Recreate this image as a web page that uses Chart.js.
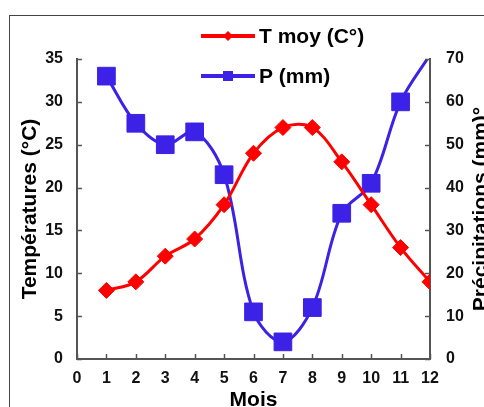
<!DOCTYPE html>
<html>
<head>
<meta charset="utf-8">
<script src="https://cdn.jsdelivr.net/npm/chart.js@4.4.1/dist/chart.umd.min.js"></script>
<style>
  html, body { margin: 0; padding: 0; background: #fff; overflow: hidden; }
  #wrap { width: 484px; height: 407px; }
</style>
</head>
<body>
<div id="wrap"><canvas id="climChart" width="484" height="407"></canvas></div>
<script>
/* données climatiques */
const mois = [1, 2, 3, 4, 5, 6, 7, 8, 9, 10, 11, 12];
const tMoy = [8, 9, 12, 14, 18, 24, 27, 27, 23, 18, 13, 9];
const precip = [66, 55, 50, 53, 43, 11, 4, 12, 34, 41, 60, 71];
const tempMax = 35;
const precipMax = 70;

const FONT = '"Liberation Sans", Arial, sans-serif';
const RED = "#ff0000";
const BLUE = "#3c22e6";
const AXIS = "#555555";

/* bordure, graduations internes, titres et légende */
const decor = {
  id: "decor",
  beforeDraw(chart) {
    const ctx = chart.ctx;
    ctx.save();
    ctx.strokeStyle = "#444";
    ctx.lineWidth = 1;
    ctx.strokeRect(9.5, 15.5, 1000, 1000);
    ctx.restore();
  },
  afterDraw(chart) {
    const ctx = chart.ctx;
    const a = chart.chartArea;
    const s = chart.scales;
    ctx.save();
    ctx.strokeStyle = AXIS;
    ctx.lineWidth = 1.5;
    s.y.ticks.forEach(t => {
      const p = Math.round(s.y.getPixelForValue(t.value)) + 0.5;
      ctx.beginPath(); ctx.moveTo(a.left, p); ctx.lineTo(a.left + 5, p); ctx.stroke();
    });
    s.y2.ticks.forEach(t => {
      const p = Math.round(s.y2.getPixelForValue(t.value)) + 0.5;
      ctx.beginPath(); ctx.moveTo(a.right, p); ctx.lineTo(a.right - 5, p); ctx.stroke();
    });
    s.x.ticks.forEach(t => {
      const p = Math.round(s.x.getPixelForValue(t.value)) + 0.5;
      ctx.beginPath(); ctx.moveTo(p, a.bottom); ctx.lineTo(p, a.bottom - 5); ctx.stroke();
    });

    // titres des axes
    ctx.fillStyle = "#000";
    ctx.font = "bold 21px " + FONT;
    ctx.textAlign = "center";
    ctx.textBaseline = "middle";
    const midY = (a.top + a.bottom) / 2;
    ctx.save();
    ctx.translate(30, midY);
    ctx.rotate(-Math.PI / 2);
    ctx.fillText("Températures (°C)", 0, 0);
    ctx.restore();
    ctx.save();
    ctx.translate(481, midY);
    ctx.rotate(-Math.PI / 2);
    ctx.fillText("Précipitations (mm)°", 0, 0);
    ctx.restore();
    ctx.fillText("Mois", (a.left + a.right) / 2, 400);

    // légende
    const rows = [
      { ds: chart.data.datasets[0], y: 36, style: "diamond" },
      { ds: chart.data.datasets[1], y: 76, style: "square" }
    ];
    rows.forEach(r => {
      ctx.strokeStyle = r.ds.borderColor;
      ctx.fillStyle = r.ds.borderColor;
      ctx.lineWidth = 4;
      ctx.beginPath(); ctx.moveTo(201, r.y); ctx.lineTo(255, r.y); ctx.stroke();
      ctx.beginPath();
      if (r.style === "diamond") {
        ctx.moveTo(228, r.y - 5); ctx.lineTo(233, r.y); ctx.lineTo(228, r.y + 5); ctx.lineTo(223, r.y);
        ctx.closePath();
      } else {
        ctx.rect(223, r.y - 5, 10, 10);
      }
      ctx.fill();
      ctx.fillStyle = "#000";
      ctx.textAlign = "left";
      ctx.fillText(r.ds.label, 259, r.y + 1);
    });
    ctx.restore();
  }
};

new Chart(document.getElementById("climChart"), {
  type: "line",
  data: {
    datasets: [{
      label: "T moy (C°)",
      data: mois.map((m, i) => ({ x: m, y: tMoy[i] })),
      yAxisID: "y",
      borderColor: RED,
      backgroundColor: RED,
      borderWidth: 3,
      tension: 0.35,
      pointStyle: "rectRot",
      pointRadius: 8,
      pointBorderWidth: 1,
      pointHoverRadius: 8
    }, {
      label: "P (mm)",
      data: mois.map((m, i) => ({ x: m, y: precip[i] })),
      yAxisID: "y2",
      borderColor: BLUE,
      backgroundColor: BLUE,
      borderWidth: 3,
      tension: 0.35,
      clip: 0,
      pointStyle: "rect",
      pointRadius: ctx => (ctx.raw && ctx.raw.y > precipMax ? 0 : 12.5),
      pointBorderWidth: 1,
      pointHoverRadius: 12.5
    }]
  },
  options: {
    responsive: false,
    animation: false,
    devicePixelRatio: 1,
    layout: { padding: { top: 59, left: 0, right: 0, bottom: 0 } },
    plugins: { legend: { display: false }, tooltip: { enabled: false } },
    scales: {
      x: {
        type: "linear",
        min: 0, max: 12,
        afterFit: sc => { sc.height = 48; },
        grid: { display: false, drawTicks: false },
        border: { display: true, color: AXIS, width: 2 },
        ticks: { stepSize: 1, padding: 10, color: "#111", font: { family: FONT, size: 16, weight: "bold" } }
      },
      y: {
        position: "left",
        min: 0, max: tempMax,
        afterFit: sc => { sc.width = 77; },
        grid: { display: false, drawTicks: false },
        border: { display: true, color: AXIS, width: 2 },
        ticks: { stepSize: 5, padding: 14, color: "#111", font: { family: FONT, size: 16, weight: "bold" } }
      },
      y2: {
        position: "right",
        min: 0, max: precipMax,
        afterFit: sc => { sc.width = 54; },
        grid: { display: false, drawTicks: false },
        border: { display: true, color: AXIS, width: 2 },
        ticks: { stepSize: 10, padding: 16, color: "#111", font: { family: FONT, size: 16, weight: "bold" } }
      }
    }
  },
  plugins: [decor]
});
</script>
</body>
</html>
